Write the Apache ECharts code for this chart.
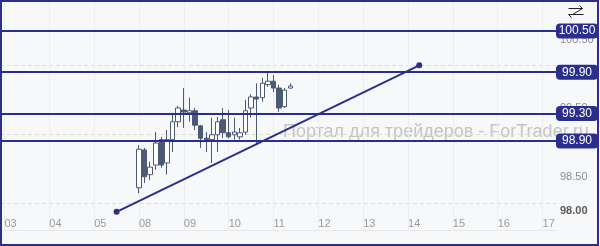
<!DOCTYPE html>
<html>
<head>
<meta charset="utf-8">
<script src="https://cdn.jsdelivr.net/npm/echarts@6/dist/echarts.min.js"></script>
<style>
html,body{margin:0;padding:0;background:#f7f8fa;}
#c{width:600px;height:246px;}
</style>
</head>
<body>
<div id="c"></div>
<script>
// ---- data ----
const dayLabels = ['03','04','05','08','09','10','11','12','13','14','15','16','17'];
const slotsPerDay = 8;
const candleSlot = [24,25,26,27,28,29,30,31,32,33,34,35,36,37,38,39,40,41,42,43,44,45,46,47,48,49,50,51];
const opens  = [98.22,98.77,98.41,98.55,98.92,98.58,98.92,99.18,99.35,99.31,99.34,99.12,98.94,98.92,98.99,99.21,99.02,98.99,98.96,99.03,99.38,99.54,99.53,99.72,99.77,99.67,99.40,99.67];
const closes = [98.78,98.38,98.52,98.87,98.55,98.92,99.18,99.38,99.32,99.34,99.13,98.94,98.92,98.99,99.18,99.02,98.96,99.03,99.02,99.34,99.54,99.51,99.74,99.77,99.67,99.38,99.64,99.70];
const lows   = [98.14,98.29,98.33,98.48,98.51,98.41,98.74,99.10,99.09,99.18,99.06,98.80,98.74,98.58,98.74,98.94,98.94,98.92,98.92,98.99,99.24,98.84,99.47,99.69,99.61,99.32,99.38,99.66];
const highs  = [98.84,98.80,98.60,99.03,98.96,99.06,99.31,99.41,99.67,99.53,99.38,99.13,99.03,99.24,99.25,99.38,99.35,99.24,99.09,99.50,99.58,99.74,99.82,99.90,99.86,99.72,99.67,99.74];
const levels = [100.50, 99.90, 99.30, 98.90];
const lastPrice = 99.70;
const trendSlots = [20, 74];
const trendPrices = [97.87, 100.00];
const priceLabels = [98.0, 98.5, 99.0, 99.5, 100.0, 100.5];
const priceGrid = [98, 99, 100];
const watermark = 'Портал для трейдеров - ForTrader.ru';

// ---- build ----
const NAVY = '#2b2e8c';
const CANDLE = '#4c5a75';
const candleRows = candleSlot.map((s, i) => [s, opens[i], closes[i], lows[i], highs[i]]);
const dayTicks = dayLabels.map((d, i) => i * slotsPerDay);
const trendData = trendSlots.map((s, i) => [s, trendPrices[i]]);

const levelMarks = levels.map(v => ({
  yAxis: v,
  lineStyle: { color: NAVY, width: 2, type: 'solid' },
  label: { show: true, position: 'end', distance: 0, formatter: '{b|' + v.toFixed(2) + '}' }
}));
levelMarks.push({
  yAxis: lastPrice,
  lineStyle: { opacity: 0 },
  label: { show: true, position: 'end', distance: 0, offset: [0, 7], formatter: '{g|' + lastPrice.toFixed(2) + '}' }
});

const chart = echarts.init(document.getElementById('c'), null, { renderer: 'canvas' });
chart.setOption({
  animation: false,
  backgroundColor: '#f7f8fa',
  textStyle: { fontFamily: 'Liberation Sans' },
  grid: { left: 0, right: 44, top: 0, bottom: 16 },
  xAxis: {
    type: 'value',
    min: -0.8, max: 98.4,
    axisLine: { show: true, onZero: false, lineStyle: { color: '#e8e8e8', width: 1 } },
    axisTick: { show: false, customValues: dayTicks },
    axisLabel: {
      customValues: dayTicks,
      inside: true, margin: 1,
      align: 'left',
      color: '#9a9a9a', fontSize: 11, fontFamily: 'Liberation Sans',
      formatter: v => dayLabels[Math.round(v / slotsPerDay)]
    },
    splitLine: { show: true, lineStyle: { color: '#eceef2', width: 1 } }
  },
  yAxis: {
    type: 'value',
    position: 'right',
    min: 97.605, max: 100.951,
    axisLine: { show: false },
    axisTick: { show: false, customValues: priceGrid },
    splitLine: { show: true, lineStyle: { color: '#e2dccd', type: [4, 3], width: 1 } },
    axisLabel: {
      customValues: priceLabels,
      margin: 4,
      verticalAlign: 'top',
      padding: [3, 0, 0, 0],
      fontSize: 11,
      fontFamily: 'Liberation Sans',
      color: '#8c8c8c',
      formatter: v => (Math.abs(v - 98) < 1e-6 ? '{k|' + v.toFixed(2) + '}' : v.toFixed(2)),
      rich: { k: { color: '#5a5a5a', fontWeight: 'bold', fontSize: 11, fontFamily: 'Liberation Sans' } }
    }
  },
  graphic: [
    {
      type: 'text', z: -10, left: 283, top: 123, silent: true,
      style: { text: watermark, fill: '#c4c4c4', font: '18px "Liberation Sans"' }
    },
    {
      type: 'group', left: 566, top: 3, silent: true,
      children: [
        { type: 'polyline', shape: { points: [[0,3],[14,3],[11,0]] }, style: { stroke: '#222', lineWidth: 1, fill: null } },
        { type: 'polyline', shape: { points: [[14,3],[4,9]] }, style: { stroke: '#222', lineWidth: 1, fill: null } },
        { type: 'polyline', shape: { points: [[3,12],[0,9],[15,9]] }, style: { stroke: '#222', lineWidth: 1, fill: null } }
      ]
    },
    {
      type: 'rect', z: 100, silent: true,
      shape: { x: 1, y: 1, width: 597, height: 244 },
      style: { stroke: NAVY, lineWidth: 2, fill: null }
    }
  ],
  series: [
    {
      type: 'candlestick',
      data: candleRows,
      barWidth: 5,
      itemStyle: { color: '#ffffff', color0: CANDLE, borderColor: CANDLE, borderColor0: CANDLE, borderColorDoji: CANDLE, borderWidth: 1 },
      markLine: {
        silent: true,
        symbol: ['none', 'none'],
        animation: false,
        label: {
          rich: {
            b: { backgroundColor: NAVY, color: '#ffffff', width: 38, height: 15, lineHeight: 15, align: 'center', borderRadius: 4, padding: [0, 2], fontSize: 12, fontFamily: 'Liberation Sans' },
            g: { backgroundColor: '#5d6b80', color: '#ffffff', width: 38, height: 15, lineHeight: 15, align: 'center', borderRadius: 4, padding: [0, 2], fontSize: 12, fontFamily: 'Liberation Sans' }
          }
        },
        data: levelMarks
      }
    },
    {
      type: 'line',
      data: trendData,
      symbol: 'circle',
      symbolSize: 6,
      showSymbol: true,
      lineStyle: { color: NAVY, width: 2 },
      itemStyle: { color: NAVY },
      z: 3
    }
  ]
});
</script>
</body>
</html>
